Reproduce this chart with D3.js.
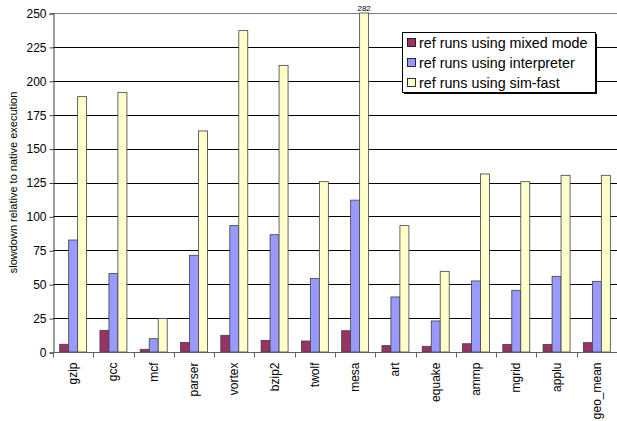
<!DOCTYPE html>
<html>
<head>
<meta charset="utf-8">
<script src="https://cdn.jsdelivr.net/npm/d3@7"></script>
<style>
  body { margin: 0; background: #fff; }
  text { font-family: "Liberation Sans", Arial, sans-serif; }
</style>
</head>
<body>
<div id="container"></div>
<script>
let w = 617;
let h = 421;

// data
let benchmarks = ["gzip", "gcc", "mcf", "parser", "vortex", "bzip2", "twolf", "mesa", "art", "equake", "ammp", "mgrid", "applu", "geo_mean"];
let mixedMode = [5.7, 16, 2, 7.1, 12.3, 8.6, 8.1, 15.7, 4.7, 4.2, 6.1, 5.6, 5.6, 6.9];
let interpreter = [82.6, 57.8, 9.8, 71.3, 93.2, 86.5, 54.3, 112, 40.6, 22.9, 52.4, 45.5, 55.8, 52.1];
let simFast = [188.3, 191.5, 24.8, 163, 237, 211.4, 125.6, 282, 93.2, 59.5, 131.3, 125.6, 130.3, 130.3];
let seriesNames = ["ref runs using mixed mode", "ref runs using interpreter", "ref runs using sim-fast"];
let seriesColors = ["#993366", "#9999ff", "#ffffcc"];
let yTicks = [0, 25, 50, 75, 100, 125, 150, 175, 200, 225, 250];

let allSeries = [mixedMode, interpreter, simFast];

let margin = {left: 53, right: 0, top: 13, bottom: 69};

let viz = d3.select("#container").append("svg")
    .attr("width", w)
    .attr("height", h)
    .style("background-color", "white");

let x = d3.scaleBand()
    .domain(benchmarks)
    .range([margin.left, w - margin.right])
    .paddingInner(0)
    .paddingOuter(0);

let x1 = d3.scaleBand()
    .domain([0, 1, 2])
    .range([0, x.bandwidth()])
    .paddingInner(0)
    .paddingOuter(0.74);

let y = d3.scaleLinear()
    .domain([0, 250])
    .range([h - margin.bottom, margin.top])
    .clamp(true);

// gridlines
viz.selectAll(".grid").data(yTicks).enter()
  .append("line")
    .attr("class", "grid")
    .attr("x1", margin.left)
    .attr("x2", w - margin.right)
    .attr("y1", d => Math.round(y(d)) + 0.5)
    .attr("y2", d => Math.round(y(d)) + 0.5)
    .attr("stroke", d => d == 250 ? "#808080" : "black")
    .attr("stroke-width", 1);

// bars
let groups = viz.selectAll(".grp").data(benchmarks).enter()
  .append("g")
    .attr("class", "grp")
    .attr("transform", d => "translate(" + x(d) + ",0)");

groups.selectAll("rect").data((d, i) => allSeries.map((s, k) => ({k: k, v: s[i]}))).enter()
  .append("rect")
    .attr("x", d => x1(d.k))
    .attr("width", x1.bandwidth())
    .attr("y", d => y(d.v))
    .attr("height", d => y(0) - y(d.v))
    .attr("fill", d => seriesColors[d.k])
    .attr("stroke", "#404040")
    .attr("stroke-width", 0.8);

// value label for clipped bar
let mesaIdx = benchmarks.indexOf("mesa");
viz.append("text")
    .attr("x", x("mesa") + x1(2) + x1.bandwidth() / 2)
    .attr("y", y(250) - 2)
    .attr("text-anchor", "middle")
    .attr("font-size", 8)
    .text(simFast[mesaIdx]);

// y axis
let yAxis = d3.axisLeft(y).tickValues(yTicks).tickSize(4).tickPadding(3);
let yg = viz.append("g")
    .attr("transform", "translate(" + (margin.left + 0.5) + ",0.5)")
    .call(yAxis);
yg.select(".domain").attr("stroke", "#404040");
yg.selectAll(".tick line").attr("stroke", "#404040");
yg.selectAll("text").attr("font-size", 12).attr("font-family", "Liberation Sans, Arial, sans-serif").attr("fill", "black");

// x axis
let xg = viz.append("g")
    .attr("transform", "translate(0," + (y(0) + 0.5) + ")");
xg.append("line")
    .attr("x1", margin.left)
    .attr("x2", w)
    .attr("stroke", "#606060");
xg.selectAll(".xt").data(benchmarks.concat(["end"])).enter()
  .append("line")
    .attr("class", "xt")
    .attr("x1", (d, i) => Math.round(margin.left + i * x.bandwidth()) + 0.5)
    .attr("x2", (d, i) => Math.round(margin.left + i * x.bandwidth()) + 0.5)
    .attr("y1", 0)
    .attr("y2", 5)
    .attr("stroke", "#606060");
xg.selectAll(".xl").data(benchmarks).enter()
  .append("text")
    .attr("class", "xl")
    .attr("transform", d => "translate(" + (x(d) + x.bandwidth() / 2 + 4) + ",10) rotate(-90)")
    .attr("text-anchor", "end")
    .attr("font-size", 12)
    .text(d => d);

// y title
viz.append("text")
    .attr("transform", "translate(17," + ((y(0) + y(250)) / 2) + ") rotate(-90)")
    .attr("text-anchor", "middle")
    .attr("font-size", 11)
    .text("slowdown relative to native execution");

// legend
let lg = viz.append("g").attr("transform", "translate(402,32)");
lg.append("rect")
    .attr("x", 2).attr("y", 2)
    .attr("width", 193).attr("height", 60)
    .attr("fill", "black");
lg.append("rect")
    .attr("x", 0.5).attr("y", 0.5)
    .attr("width", 193).attr("height", 60)
    .attr("fill", "white")
    .attr("stroke", "black");
let items = lg.selectAll(".li").data(seriesNames).enter()
  .append("g")
    .attr("class", "li")
    .attr("transform", (d, i) => "translate(5," + (11 + i * 20) + ")");
items.append("rect")
    .attr("x", 0.5).attr("y", -4.5)
    .attr("width", 8).attr("height", 8)
    .attr("fill", (d, i) => seriesColors[i])
    .attr("stroke", "black")
    .attr("stroke-width", 0.8);
items.append("text")
    .attr("x", 12)
    .attr("y", 5)
    .attr("font-size", 14.3)
    .text(d => d);
</script>
</body>
</html>
